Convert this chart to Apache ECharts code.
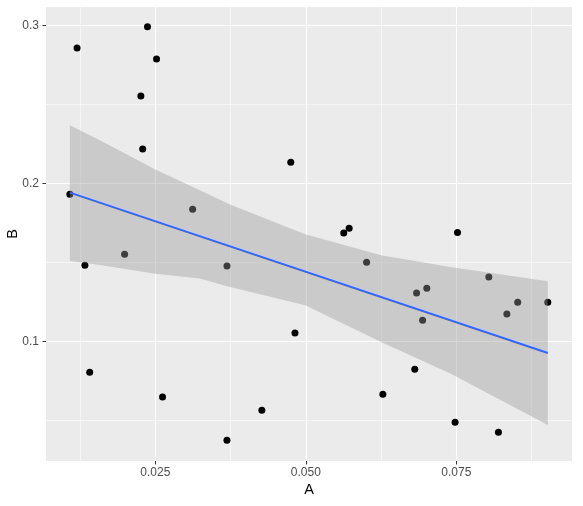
<!DOCTYPE html>
<html>
<head>
<meta charset="utf-8">
<script src="https://cdn.jsdelivr.net/npm/echarts@6/dist/echarts.min.js"></script>
<style>
  html, body { margin: 0; padding: 0; background: #fff; }
  #main { width: 583px; height: 506px; }
</style>
</head>
<body>
<div id="main"></div>
<script>
// 散点数据 (A, B)
const pointsA = [0.0108, 0.0120, 0.0237, 0.0252, 0.0226, 0.0229, 0.0312, 0.0133, 0.0199, 0.0141,
  0.0262, 0.0475, 0.0563, 0.0572, 0.0369, 0.0482, 0.0427, 0.0369, 0.0601, 0.0628,
  0.0684, 0.0701, 0.0694, 0.0681, 0.0752, 0.0748, 0.0804, 0.0834, 0.0852, 0.0902, 0.0820]
const pointsB = [0.193, 0.2856, 0.2991, 0.2787, 0.2553, 0.2217, 0.1835, 0.1481, 0.1551, 0.0804,
  0.0647, 0.2133, 0.1685, 0.1715, 0.1477, 0.1053, 0.0563, 0.0373, 0.150, 0.0665,
  0.1306, 0.1335, 0.1133, 0.0823, 0.1688, 0.0487, 0.1407, 0.1173, 0.1247, 0.1247, 0.0424]

// 拟合线 & 置信区间
const lineA = [0.0108, 0.0902]
const lineB = [0.1941, 0.0926]
const bandX = [0.0108, 0.0158, 0.0250, 0.0324, 0.0374, 0.0499, 0.0625, 0.0740, 0.0902]
const bandUpper = [0.2367, 0.2272, 0.2087, 0.1956, 0.1865, 0.1677, 0.1544, 0.1470, 0.1380]
const bandLower = [0.1508, 0.1483, 0.1428, 0.1397, 0.1344, 0.1228, 0.0996, 0.0796, 0.0470]

// 刻度
const xTicks = [0.025, 0.05, 0.075]
const xMinor = [0.0125, 0.0375, 0.0625, 0.0875]
const yTicks = [0.1, 0.2, 0.3]
const yMinor = [0.05, 0.15, 0.25]

const xRange = [0.00684, 0.09422]
const yRange = [0.0242, 0.3116]

const font = '"Liberation Sans", Arial, sans-serif'

const chart = echarts.init(document.getElementById('main'), null, {renderer: 'canvas'})

function mainAxis(range, ticks, name, digits, isY) {
  return {
    type: 'value',
    min: range[0],
    max: range[1],
    name: name,
    nameLocation: 'middle',
    nameGap: isY ? 26 : 21,
    nameMoveOverlap: false,
    nameTextStyle: {color: '#000', fontSize: 14.5, fontFamily: font},
    axisLine: {show: false},
    axisTick: {show: true, length: 3.5, customValues: ticks, lineStyle: {color: '#333', width: 1}},
    axisLabel: {
      customValues: ticks,
      margin: isY ? 7 : 6,
      color: '#4D4D4D',
      fontSize: 12,
      fontFamily: font,
      formatter: v => v.toFixed(digits)
    },
    splitLine: {show: true, lineStyle: {color: '#fff', width: 1.1}},
    z: 0
  }
}

function minorAxis(range, ticks, isY) {
  return {
    type: 'value',
    min: range[0],
    max: range[1],
    position: isY ? 'left' : 'bottom',
    axisLine: {show: false},
    axisTick: {show: false, customValues: ticks},
    axisLabel: {show: false, customValues: ticks},
    splitLine: {show: true, lineStyle: {color: '#fff', width: 0.55}},
    z: 0
  }
}

const scatterData = pointsA.map((a, i) => [a, pointsB[i]])

// 置信带 用一个多边形画
function renderBand(params, api) {
  const pts = []
  bandX.forEach((x, i) => pts.push(api.coord([x, bandUpper[i]])))
  for (let i = bandX.length - 1; i >= 0; i--) pts.push(api.coord([bandX[i], bandLower[i]]))
  return {
    type: 'polygon',
    shape: {points: pts},
    style: {fill: 'rgba(153,153,153,0.4)'}
  }
}

const option = {
  animation: false,
  backgroundColor: '#fff',
  grid: {
    left: 46, right: 11, top: 7, bottom: 45,
    outerBoundsMode: 'none',
    containLabel: false,
    show: true, backgroundColor: '#EBEBEB', borderWidth: 0
  },
  xAxis: [mainAxis(xRange, xTicks, 'A', 3, false), minorAxis(xRange, xMinor, false)],
  yAxis: [mainAxis(yRange, yTicks, 'B', 1, true), minorAxis(yRange, yMinor, true)],
  series: [
    {
      type: 'scatter',
      data: scatterData,
      symbol: 'circle',
      symbolSize: 7,
      itemStyle: {color: '#000', opacity: 1},
      z: 2
    },
    {
      type: 'custom',
      data: [[bandX[0], bandLower[0]]],
      renderItem: renderBand,
      silent: true,
      z: 3
    },
    {
      type: 'line',
      data: lineA.map((a, i) => [a, lineB[i]]),
      symbol: 'none',
      lineStyle: {color: '#3366FF', width: 2},
      z: 4
    }
  ]
}

chart.setOption(option)
</script>
</body>
</html>
